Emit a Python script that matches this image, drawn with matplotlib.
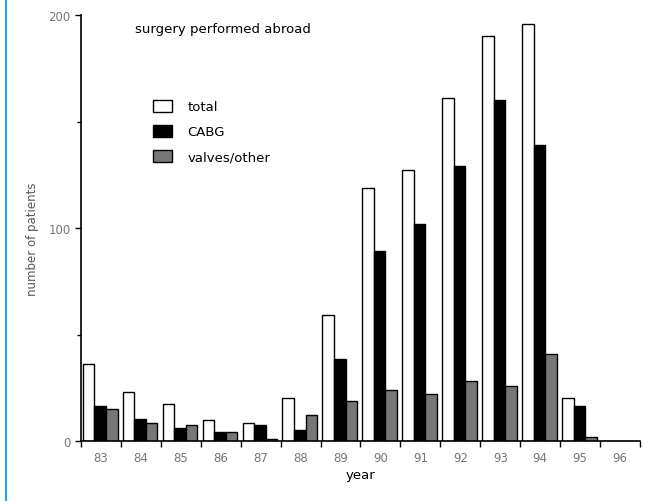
import matplotlib
matplotlib.use("Agg")
import matplotlib.pyplot as plt
import numpy as np
from matplotlib.lines import Line2D

# values
years = ["83", "84", "85", "86", "87", "88", "89", "90", "91", "92", "93", "94", "95", "96"]
total = [36, 23, 17.5, 10, 8.5, 20, 59, 119, 127, 161, 190, 196, 20, 0]
cabg = [16.5, 10.5, 6, 4, 7.5, 5, 38.5, 89, 102, 129, 160, 139, 16.5, 0]
valves = [15, 8.5, 7.5, 4, 1, 12, 19, 24, 22, 28, 26, 41, 2, 0]

series = [
    ("total", total, "white"),
    ("CABG", cabg, "black"),
    ("valves/other", valves, "#777777"),
]

W, H = 653, 502
fig = plt.figure(figsize=(W / 100, H / 100), dpi=100)
ax = fig.add_axes([81 / W, 1 - 442 / H, (640 - 81) / W, (442 - 16) / H])

x = np.arange(len(years))
width = 0.29
offsets = [0.19, 0.48, 0.77]
handles = []
for (name, vals, color), off in zip(series, offsets):
    b = ax.bar(x + off, vals, width=width, color=color, edgecolor="black",
               linewidth=1.0, label=name)
    handles.append(b)

ax.set_xlim(0, len(years))
ax.set_ylim(0, 200)

for s in ["top", "right"]:
    ax.spines[s].set_visible(False)
ax.spines["left"].set_linewidth(1.2)
ax.spines["bottom"].set_linewidth(1.2)

# group boundaries carry the tick marks, labels sit in between
ax.set_xticks(np.arange(len(years) + 1))
ax.set_xticklabels([])
ax.set_xticks(x + 0.5, minor=True)
ax.set_xticklabels(years, minor=True)
ax.tick_params(axis="x", which="major", length=4, width=1, direction="out")
ax.tick_params(axis="x", which="minor", length=0, pad=7, labelsize=8.5,
               labelcolor="#777777")

ax.set_yticks([0, 100, 200])
ax.set_yticks([50, 150], minor=True)
ax.tick_params(axis="y", which="major", length=4, width=1, labelsize=8.5,
               labelcolor="#777777")
ax.tick_params(axis="y", which="minor", length=3, width=1)

ax.set_xlabel("year", fontsize=9.5, labelpad=3)
ax.set_ylabel("number of patients", fontsize=8.5, color="#555555", labelpad=5)
ax.yaxis.set_label_coords(-0.075, 0.476)

fig.text(135 / W, 1 - 30 / H, "surgery performed abroad", fontsize=9.5,
         va="center", ha="left")

ax.legend(handles=handles, loc="upper left",
          bbox_to_anchor=(146 / W, 1 - 94 / H), bbox_transform=fig.transFigure,
          frameon=False, fontsize=9.5, borderpad=0, handlelength=1.45,
          handleheight=1.1, labelspacing=0.85, handletextpad=1.2)

# thin blue border line at the left edge
fig.add_artist(Line2D([5.5 / W, 5.5 / W], [0, 1], color="#22aaee", linewidth=1.5,
                      transform=fig.transFigure))

fig.savefig("out.png", dpi=100)
